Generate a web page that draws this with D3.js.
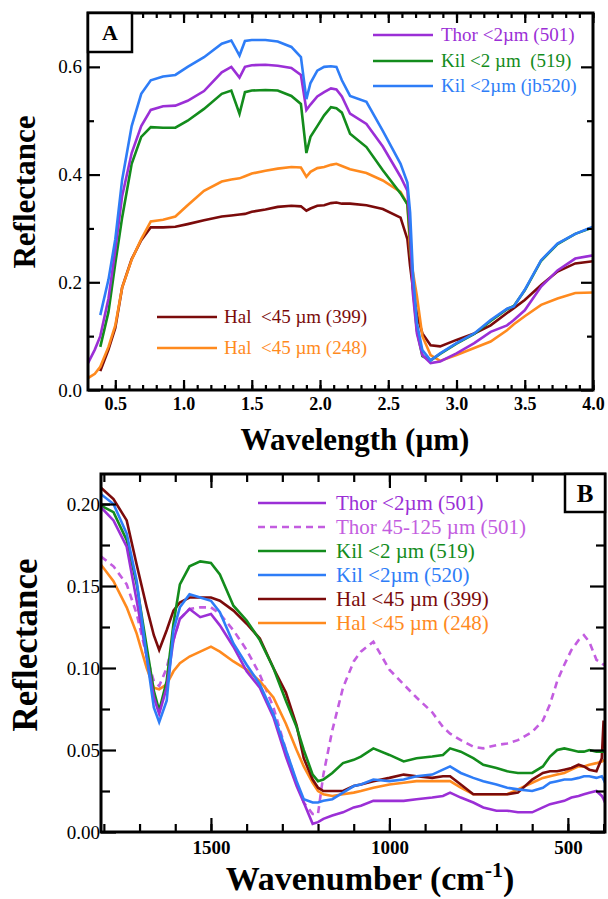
<!DOCTYPE html>
<html><head><meta charset="utf-8">
<script src="https://cdn.jsdelivr.net/npm/d3@7"></script>
<style>body{margin:0;background:#fff}svg{display:block}text{font-family:"Liberation Serif","Times New Roman",serif}</style>
</head><body><svg id="c" width="608" height="899"></svg>
<script>
// ---------- Panel A data (wavelength, µm) ----------
const waveA = [0.30,0.35,0.39,0.45,0.50,0.55,0.62,0.69,0.76,0.85,0.94,1.03,1.15,1.28,1.35,1.41,1.45,1.50,1.60,1.69,1.79,1.86,1.90,1.93,1.98,2.03,2.08,2.12,2.16,2.22,2.34,2.46,2.59,2.64,2.66,2.68,2.71,2.75,2.81,2.88,3.00,3.13,3.25,3.37,3.42,3.50,3.62,3.74,3.87,4.00];
const thorA = [0.05,0.075,0.10,0.17,0.26,0.36,0.44,0.49,0.52,0.527,0.528,0.537,0.555,0.59,0.60,0.58,0.60,0.603,0.604,0.602,0.598,0.585,0.52,0.53,0.545,0.553,0.56,0.558,0.545,0.513,0.494,0.452,0.396,0.37,0.30,0.18,0.105,0.065,0.05,0.053,0.068,0.087,0.108,0.12,0.13,0.148,0.192,0.222,0.244,0.25];
const kil519A = [null,null,0.08,0.145,0.235,0.32,0.42,0.47,0.488,0.487,0.487,0.50,0.522,0.55,0.556,0.513,0.553,0.556,0.557,0.556,0.546,0.531,0.44,0.47,0.49,0.51,0.525,0.523,0.515,0.476,0.451,0.408,0.365,0.345,0.28,0.19,0.11,0.063,0.055,0.067,0.086,0.104,0.128,0.15,0.156,0.185,0.24,0.271,0.29,0.302];
const kil520A = [null,null,0.139,0.205,0.28,0.39,0.49,0.55,0.575,0.582,0.585,0.60,0.618,0.643,0.649,0.621,0.648,0.65,0.65,0.647,0.637,0.618,0.54,0.57,0.593,0.60,0.601,0.60,0.575,0.546,0.535,0.481,0.42,0.385,0.33,0.22,0.124,0.074,0.055,0.068,0.087,0.105,0.13,0.151,0.155,0.186,0.241,0.272,0.29,0.303];
const hal399A = [null,null,0.035,0.075,0.115,0.19,0.243,0.278,0.302,0.302,0.303,0.308,0.315,0.322,0.324,0.326,0.327,0.331,0.335,0.34,0.342,0.341,0.333,0.337,0.342,0.343,0.347,0.348,0.346,0.346,0.343,0.336,0.32,0.28,0.23,0.19,0.14,0.105,0.083,0.081,0.093,0.105,0.12,0.143,0.152,0.167,0.195,0.22,0.235,0.239];
const hal248A = [0.022,0.03,0.043,0.08,0.12,0.19,0.242,0.28,0.313,0.316,0.322,0.343,0.37,0.387,0.391,0.393,0.397,0.402,0.407,0.411,0.414,0.413,0.396,0.405,0.412,0.414,0.418,0.42,0.416,0.41,0.403,0.389,0.368,0.345,0.26,0.22,0.174,0.10,0.065,0.054,0.065,0.078,0.09,0.111,0.122,0.137,0.158,0.17,0.18,0.181];
const labelsA = ["Thor <2µm (501)","Kil <2 µm  (519)","Kil <2µm (jb520)","Hal  <45 µm (399)","Hal  <45 µm (248)"];
const ticksAx = [0.5,1.0,1.5,2.0,2.5,3.0,3.5,4.0];
const ticksAy = [0.0,0.2,0.4,0.6];

// ---------- Panel B data (wavenumber, cm-1) ----------
const waveB = [1808,1773,1736,1708,1680,1660,1645,1624,1605,1587,1560,1530,1500,1475,1437,1400,1363,1325,1290,1260,1240,1215,1200,1185,1160,1130,1100,1080,1045,1000,960,924,880,850,830,800,765,737,700,670,640,600,570,550,530,510,490,470,455,440,420,405,400,396];
const thorB = [0.198,0.19,0.174,0.141,0.107,0.082,0.072,0.088,0.117,0.13,0.136,0.131,0.133,0.126,0.113,0.098,0.088,0.07,0.046,0.028,0.018,0.005,0.006,0.008,0.01,0.012,0.015,0.016,0.019,0.019,0.019,0.02,0.021,0.022,0.024,0.021,0.018,0.015,0.013,0.013,0.012,0.012,0.015,0.017,0.018,0.019,0.021,0.022,0.023,0.024,0.025,0.022,0.02,0.018];
const thorCoarseB = [0.168,0.162,0.151,0.133,0.107,0.092,0.089,0.1,0.117,0.13,0.136,0.137,0.137,0.133,0.123,0.111,0.096,0.076,0.05,0.03,0.018,0.011,0.011,0.035,0.062,0.088,0.104,0.11,0.116,0.099,0.09,0.082,0.073,0.064,0.06,0.056,0.052,0.051,0.053,0.054,0.056,0.061,0.068,0.078,0.092,0.102,0.111,0.117,0.12,0.116,0.105,0.103,0.102,0.102];
const kil519B = [0.199,0.195,0.178,0.151,0.113,0.086,0.074,0.092,0.127,0.151,0.162,0.165,0.164,0.157,0.138,0.129,0.117,0.1,0.08,0.064,0.05,0.035,0.031,0.032,0.036,0.042,0.044,0.046,0.051,0.047,0.043,0.045,0.046,0.047,0.051,0.049,0.045,0.041,0.039,0.037,0.036,0.036,0.04,0.046,0.05,0.051,0.05,0.049,0.049,0.05,0.049,0.049,0.049,0.049];
const kil520B = [0.206,0.2,0.182,0.153,0.107,0.076,0.067,0.08,0.123,0.137,0.145,0.143,0.141,0.134,0.115,0.102,0.09,0.072,0.05,0.031,0.02,0.018,0.018,0.019,0.02,0.024,0.028,0.029,0.032,0.031,0.032,0.034,0.035,0.038,0.04,0.036,0.033,0.031,0.029,0.027,0.026,0.025,0.027,0.03,0.031,0.032,0.032,0.033,0.034,0.034,0.033,0.034,0.032,0.03];
const hal399B = [0.21,0.203,0.19,0.163,0.137,0.12,0.111,0.123,0.135,0.14,0.143,0.143,0.143,0.141,0.135,0.127,0.118,0.1,0.085,0.065,0.045,0.032,0.027,0.025,0.025,0.025,0.028,0.029,0.031,0.033,0.035,0.034,0.033,0.034,0.034,0.029,0.023,0.023,0.023,0.023,0.024,0.032,0.036,0.037,0.037,0.038,0.039,0.041,0.04,0.038,0.037,0.045,0.068,0.05];
const hal248B = [0.163,0.153,0.137,0.121,0.1,0.088,0.087,0.09,0.098,0.103,0.107,0.11,0.113,0.11,0.104,0.099,0.092,0.082,0.066,0.05,0.04,0.03,0.025,0.023,0.022,0.023,0.024,0.025,0.027,0.029,0.03,0.031,0.031,0.031,0.031,0.027,0.023,0.023,0.023,0.023,0.026,0.03,0.033,0.034,0.035,0.036,0.038,0.04,0.04,0.041,0.042,0.043,0.0435,0.044];
const labelsB = ["Thor <2µm (501)","Thor 45-125 µm (501)","Kil <2 µm (519)","Kil <2µm (520)","Hal <45 µm (399)","Hal <45 µm (248)"];
const ticksBx = [1500,1000,500];
const ticksBy = [0.00,0.05,0.10,0.15,0.20];

const C = {thor:"#9b2fd6", thorC:"#c35de0", k519:"#138c1c", k520:"#2e7df7", h399:"#7b0b0b", h248:"#ff8a1e"};

const svg = d3.select("#c");

function drawPanel(o){
  const g = svg.append("g");
  const x = d3.scaleLinear().domain(o.xd).range([o.L,o.R]);
  const y = d3.scaleLinear().domain(o.yd).range([o.B,o.T]);
  const id = "clip"+o.name;
  svg.append("clipPath").attr("id",id).append("rect").attr("x",o.L).attr("y",o.T).attr("width",o.R-o.L).attr("height",o.B-o.T);
  const cg = g.append("g").attr("clip-path",`url(#${id})`);
  o.series.forEach(s=>{
    const pts = o.xs.map((v,i)=>[v,s.v[i]]);
    const line = d3.line().defined(d=>d[1]!=null).x(d=>x(d[0])).y(d=>y(d[1]));
    cg.append("path").attr("d",line(pts)).attr("fill","none").attr("stroke",s.c)
      .attr("stroke-width",2.6).attr("stroke-linejoin","miter")
      .attr("stroke-dasharray",s.dash||null);
  });
  const style = (sel,bold,fs)=>{sel.select(".domain").remove();sel.selectAll("line").attr("stroke","#000").attr("stroke-width",2.2);
    sel.selectAll("text").attr("fill","#000").style("font-size",fs+"px").style("font-weight",bold?"bold":"normal").style("font-family",'"Liberation Serif",serif');};
  const mk = (axisFn, scale, vals, size, lab, pad, fmt)=> axisFn(scale).tickValues(vals).tickSizeInner(-size).tickSizeOuter(0).tickPadding(pad).tickFormat(lab?fmt:()=> "");
  g.append("g").attr("transform",`translate(0,${o.B})`).call(mk(d3.axisBottom,x,o.xMinor,o.xMinLen,false,0)).call(s=>style(s));
  g.append("g").attr("transform",`translate(0,${o.B})`).call(mk(d3.axisBottom,x,o.xMajor,o.xMajLen,true,o.xPad,o.xFmt)).call(s=>style(s,true,o.xfs));
  g.append("g").attr("transform",`translate(0,${o.T})`).call(mk(d3.axisTop,x,o.xMinor,o.xMinLen,false,0)).call(s=>style(s));
  g.append("g").attr("transform",`translate(0,${o.T})`).call(mk(d3.axisTop,x,o.xMajor,o.xMajLen,false,0)).call(s=>style(s));
  g.append("g").attr("transform",`translate(${o.L},0)`).call(mk(d3.axisLeft,y,o.yMinor,o.yMinLen,false,0)).call(s=>style(s));
  g.append("g").attr("transform",`translate(${o.L},0)`).call(mk(d3.axisLeft,y,o.yMajor,o.yMajLen,true,o.yPad,o.yFmt)).call(s=>style(s,false,o.yfs));
  g.append("g").attr("transform",`translate(${o.R},0)`).call(mk(d3.axisRight,y,o.yMinor,o.yMinLen,false,0)).call(s=>style(s));
  g.append("g").attr("transform",`translate(${o.R},0)`).call(mk(d3.axisRight,y,o.yMajor,o.yMajLen,false,0)).call(s=>style(s));
  g.append("rect").attr("x",o.L).attr("y",o.T).attr("width",o.R-o.L).attr("height",o.B-o.T).attr("fill","none").attr("stroke","#000").attr("stroke-width",3);
  return {g,x,y};
}

// ---------- Panel A ----------
const pa = drawPanel({name:"A", L:88,R:593,T:13,B:390, xd:[0.3,4.0], yd:[0,0.7], xs:waveA,
  series:[{v:hal399A,c:C.h399},{v:hal248A,c:C.h248},{v:kil519A,c:C.k519},{v:thorA,c:C.thor},{v:kil520A,c:C.k520}],
  xMajor:ticksAx, xMinor:d3.range(4,41).map(d=>d/10), xMajLen:10, xMinLen:5, xPad:7, xfs:18, xFmt:d3.format(".1f"),
  yMajor:ticksAy, yMinor:[0.1,0.3,0.5], yMajLen:12, yMinLen:6, yPad:6, yfs:19, yFmt:d3.format(".1f")});

const legA = [{t:labelsA[0],c:C.thor,y:35,x0:373,x1:433,tx:441},{t:labelsA[1],c:C.k519,y:61,x0:373,x1:433,tx:441},{t:labelsA[2],c:C.k520,y:86,x0:373,x1:433,tx:441},
              {t:labelsA[3],c:C.h399,y:317,x0:157,x1:217,tx:224},{t:labelsA[4],c:C.h248,y:348,x0:157,x1:217,tx:224}];
legA.forEach(d=>{
  svg.append("line").attr("x1",d.x0).attr("x2",d.x1).attr("y1",d.y).attr("y2",d.y).attr("stroke",d.c).attr("stroke-width",2.6);
  svg.append("text").attr("x",d.tx).attr("y",d.y+6).attr("fill",d.c).attr("xml:space","preserve").style("white-space","pre").style("font-size","19px").text(d.t);
});
svg.append("rect").attr("x",88).attr("y",13).attr("width",44).attr("height",39).attr("fill","#fff").attr("stroke","#000").attr("stroke-width",2.5);
svg.append("text").attr("x",110).attr("y",40).attr("text-anchor","middle").style("font-size","22px").style("font-weight","bold").text("A");
svg.append("text").attr("transform","translate(35,192) rotate(-90)").attr("text-anchor","middle").style("font-size","31px").style("font-weight","bold").text("Reflectance");
svg.append("text").attr("x",355).attr("y",450).attr("text-anchor","middle").style("font-size","31px").style("font-weight","bold").text("Wavelength (µm)");

// ---------- Panel B ----------
const pb = drawPanel({name:"B", L:101,R:605,T:474,B:832, xd:[1808,396], yd:[0,0.2183], xs:waveB,
  series:[{v:thorCoarseB,c:C.thorC,dash:"7,5"},{v:hal248B,c:C.h248},{v:hal399B,c:C.h399},{v:kil519B,c:C.k519},{v:thorB,c:C.thor},{v:kil520B,c:C.k520}],
  xMajor:ticksBx, xMinor:d3.range(400,1801,100), xMajLen:14, xMinLen:8, xPad:9, xfs:19, xFmt:d3.format("d"),
  yMajor:ticksBy, yMinor:[0.025,0.075,0.125,0.175,0.2], yMajLen:15, yMinLen:9, yPad:1, yfs:19, yFmt:d3.format(".2f")});

const legB = [{c:C.thor},{c:C.thorC,dash:"7,5"},{c:C.k519},{c:C.k520},{c:C.h399},{c:C.h248}];
const legBy = [503,527,551,575,599,623];
legB.forEach((d,i)=>{
  svg.append("line").attr("x1",258).attr("x2",326).attr("y1",legBy[i]).attr("y2",legBy[i]).attr("stroke",d.c).attr("stroke-width",2.6).attr("stroke-dasharray",d.dash||null);
  svg.append("text").attr("x",336).attr("y",legBy[i]+7).attr("fill",d.c).style("font-size","21px").text(labelsB[i]);
});
svg.append("rect").attr("x",565).attr("y",474).attr("width",40).attr("height",38).attr("fill","#fff").attr("stroke","#000").attr("stroke-width",2.5);
svg.append("text").attr("x",585).attr("y",502).attr("text-anchor","middle").style("font-size","25px").style("font-weight","bold").text("B");
svg.append("text").attr("transform","translate(37,645) rotate(-90)").attr("text-anchor","middle").style("font-size","35px").style("font-weight","bold").text("Reflectance");
const wt = svg.append("text").attr("x",370).attr("y",890).attr("text-anchor","middle").style("font-size","34px").style("font-weight","bold");
wt.append("tspan").text("Wavenumber (cm");
wt.append("tspan").attr("dy",-13).style("font-size","22px").text("-1");
wt.append("tspan").attr("dy",13).text(")");
</script></body></html>
